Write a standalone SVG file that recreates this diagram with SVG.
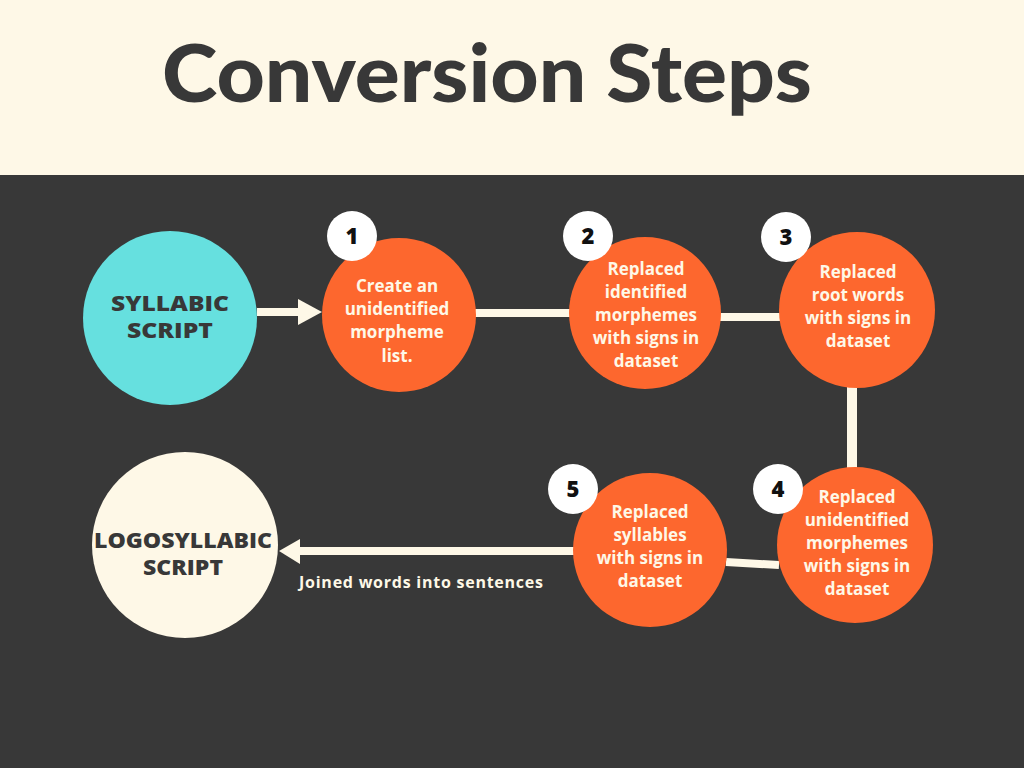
<svg xmlns="http://www.w3.org/2000/svg" width="1024" height="768" viewBox="0 0 1024 768">
<defs>
<style>
.bg{fill:#383838}
.hdr{fill:#FEF8E7}
.title{font-family:"Lato","Liberation Sans",sans-serif;font-weight:900;font-size:80px;fill:#383838}
.step{fill:#FD672E}
.badge{fill:#FFFFFF}
.num{font-family:"Open Sans","Liberation Sans",sans-serif;font-weight:800;font-size:22px;fill:#111111;text-anchor:middle}
.st{font-family:"Open Sans","Liberation Sans",sans-serif;font-weight:700;font-size:17px;fill:#FEF8E7;text-anchor:middle}
.big{font-family:"Open Sans","Liberation Sans",sans-serif;font-weight:800;font-size:20.5px;fill:#383838;text-anchor:middle}
.conn{stroke:#FEF8E7;stroke-width:8;fill:none}
.head{fill:#FEF8E7}
.lbl{font-family:"Open Sans","Liberation Sans",sans-serif;font-weight:700;font-size:16px;fill:#FEF8E7}
</style>
</defs>
<rect class="bg" x="0" y="0" width="1024" height="768"/>
<rect class="hdr" x="0" y="0" width="1024" height="175"/>
<text class="title" x="487" y="102" text-anchor="middle" textLength="650" lengthAdjust="spacingAndGlyphs">Conversion Steps</text>

<g id="connectors">
<line class="conn" x1="257" y1="312" x2="300" y2="312"/>
<polygon class="head" points="322,312 298,299 298,325"/>
<line class="conn" x1="474" y1="313" x2="572" y2="313"/>
<line class="conn" x1="718" y1="317" x2="780" y2="317"/>
<line class="conn" x1="852" y1="385" x2="852" y2="470" style="stroke-width:10"/>
<line class="conn" x1="726" y1="562" x2="779" y2="565"/>
<line class="conn" x1="575" y1="551" x2="298" y2="551"/>
<polygon class="head" points="279,551 300,539 300,564"/>
<text class="lbl" x="299" y="588" textLength="244" lengthAdjust="spacing">Joined words into sentences</text>
</g>

<g id="syllabic">
<circle cx="170" cy="318" r="87" fill="#66E0DF"/>
<text class="big" x="170" y="311" textLength="118" lengthAdjust="spacingAndGlyphs">SYLLABIC</text>
<text class="big" x="170" y="338" textLength="86" lengthAdjust="spacingAndGlyphs">SCRIPT</text>
</g>

<g id="step1">
<circle class="step" cx="399" cy="315" r="77"/>
<circle class="badge" cx="352" cy="236" r="25"/>
<text class="num" x="352" y="244">1</text>
<text class="st" x="397" y="292">Create an</text>
<text class="st" x="397" y="315">unidentified</text>
<text class="st" x="397" y="338">morpheme</text>
<text class="st" x="397" y="362">list.</text>
</g>

<g id="step2">
<circle class="step" cx="645" cy="313" r="76"/>
<circle class="badge" cx="588" cy="236" r="25"/>
<text class="num" x="588" y="244">2</text>
<text class="st" x="646" y="275">Replaced</text>
<text class="st" x="646" y="298">identified</text>
<text class="st" x="646" y="321">morphemes</text>
<text class="st" x="646" y="344">with signs in</text>
<text class="st" x="646" y="367">dataset</text>
</g>

<g id="step3">
<circle class="step" cx="857" cy="310" r="78"/>
<circle class="badge" cx="786" cy="237" r="25"/>
<text class="num" x="786" y="245">3</text>
<text class="st" x="858" y="278">Replaced</text>
<text class="st" x="858" y="301">root words</text>
<text class="st" x="858" y="324">with signs in</text>
<text class="st" x="858" y="347">dataset</text>
</g>

<g id="step4">
<circle class="step" cx="855" cy="545" r="78"/>
<circle class="badge" cx="778" cy="489" r="25"/>
<text class="num" x="778" y="497">4</text>
<text class="st" x="857" y="503">Replaced</text>
<text class="st" x="857" y="526">unidentified</text>
<text class="st" x="857" y="549">morphemes</text>
<text class="st" x="857" y="572">with signs in</text>
<text class="st" x="857" y="595">dataset</text>
</g>

<g id="step5">
<circle class="step" cx="650" cy="550" r="77"/>
<circle class="badge" cx="573" cy="489" r="25"/>
<text class="num" x="573" y="497">5</text>
<text class="st" x="650" y="518">Replaced</text>
<text class="st" x="650" y="541">syllables</text>
<text class="st" x="650" y="564">with signs in</text>
<text class="st" x="650" y="587">dataset</text>
</g>

<g id="logosyllabic">
<circle cx="185" cy="545" r="93" fill="#FEF8E7"/>
<text class="big" x="183" y="548" textLength="178" lengthAdjust="spacingAndGlyphs">LOGOSYLLABIC</text>
<text class="big" x="183" y="575" textLength="80" lengthAdjust="spacingAndGlyphs">SCRIPT</text>
</g>
</svg>
